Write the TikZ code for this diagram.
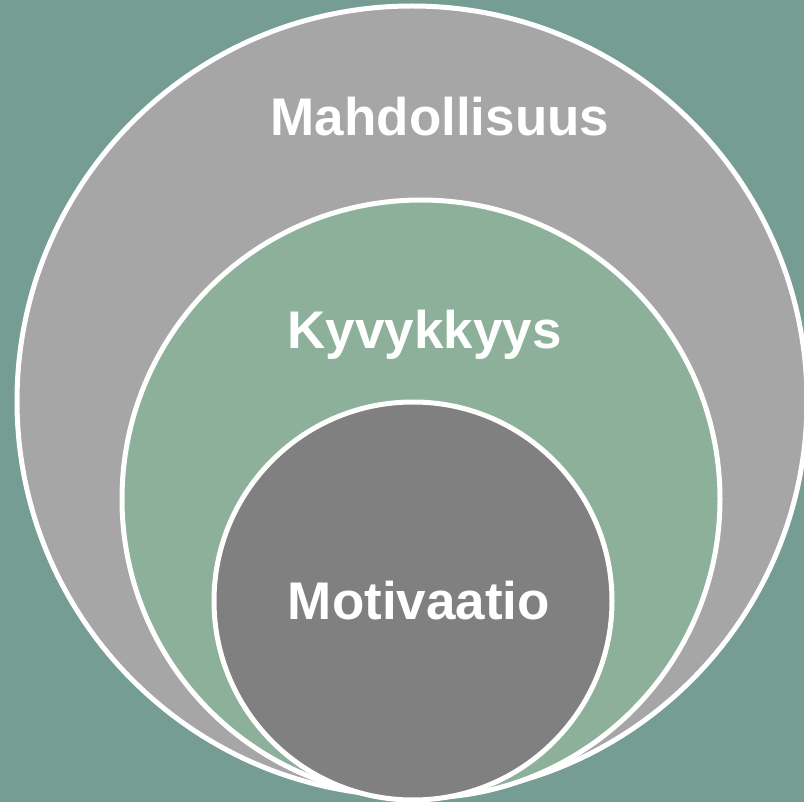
\documentclass[tikz,border=0pt]{standalone}
\usepackage{fontspec}
\setmainfont{Liberation Sans}
\definecolor{bgTeal}{HTML}{769D93}
\definecolor{greyOuter}{HTML}{A6A6A6}
\definecolor{greenMid}{HTML}{8CB09A}
\definecolor{greyInner}{HTML}{808080}

\begin{document}
\begin{tikzpicture}[x=1pt, y=-1pt,
    ring/.style={circle,inner sep=0pt,draw=white,line width=5pt},
    label/.style={anchor=base,text=white,font=\fontsize{53}{60}\selectfont\bfseries},
]

	\useasboundingbox (0,0) rectangle (804,802);
	\clip (0,0) rectangle (804,802);
	\fill[bgTeal] (0,0) rectangle (804,802);

	\node[ring,fill=greyOuter,minimum size=790pt](opp) at(412,401){};
	\node[ring,fill=greenMid,minimum size=598pt](abil) at(421,499){};
	\node[ring,fill=greyInner,minimum size=398pt](moti) at(413,601){};

	\node[label](oppText) at(440,135.5){Mahdollisuus};
	\node[label](abilText) at(424.5,349){Kyvykkyys};
	\node[label](motiText) at(419,619.5){Motivaatio};

\end{tikzpicture}
\end{document}
